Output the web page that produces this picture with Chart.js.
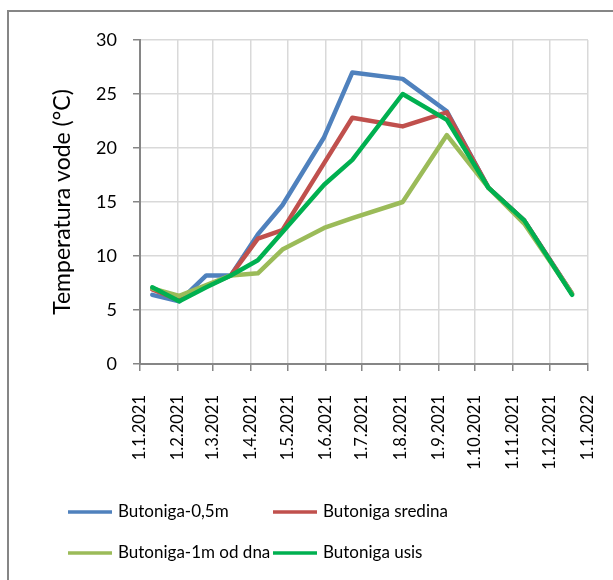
<!DOCTYPE html>
<html>
<head>
<meta charset="utf-8">
<script src="https://cdn.jsdelivr.net/npm/chart.js@4.4.1/dist/chart.umd.min.js"></script>
<style>
    body { margin: 0; background: #ffffff; }
    canvas { display: block; }
</style>
</head>
<body>
<canvas id="tempChart" width="613" height="580"></canvas>
<script>
// Data
const tickLabels = ['1.1.2021', '1.2.2021', '1.3.2021', '1.4.2021', '1.5.2021', '1.6.2021',
    '1.7.2021', '1.8.2021', '1.9.2021', '1.10.2021', '1.11.2021', '1.12.2021', '1.1.2022'];
const sampleDates = ['11.1.2021', '2.2.2021', '24.2.2021', '16.3.2021', '7.4.2021', '27.4.2021',
    '31.5.2021', '23.6.2021', '3.8.2021', '8.9.2021', '12.10.2021', '10.11.2021', '19.12.2021'];
const seriesNames = ['Butoniga-0,5m', 'Butoniga sredina', 'Butoniga-1m od dna', 'Butoniga usis'];
const butoniga05 = [6.4, 5.8, 8.2, 8.2, 12.0, 14.7, 21.0, 27.0, 26.4, 23.4, 16.3, 13.3, 6.5];
const butonigaSredina = [6.9, 5.9, 7.2, 8.2, 11.6, 12.4, 18.6, 22.8, 22.0, 23.3, 16.3, 13.3, 6.5];
const butoniga1m = [7.0, 6.3, 7.3, 8.2, 8.4, 10.6, 12.6, 13.5, 15.0, 21.2, 16.3, 13.0, 6.5];
const butonigaUsis = [7.1, 5.8, 7.1, 8.2, 9.6, 12.2, 16.6, 18.9, 25.0, 22.6, 16.3, 13.3, 6.4];
const seriesColors = ['#4F81BD', '#C0504D', '#9BBB59', '#00B050'];

const FONT = 'Lato, "Open Sans", sans-serif';

// days since 1.1.2021 for a "d.m.yyyy" string
function dayOffset(str) {
    const [d, m, y] = str.split('.').map(Number);
    return (Date.UTC(y, m - 1, d) - Date.UTC(2021, 0, 1)) / 86400000;
}

const tickDays = tickLabels.map(dayOffset);
const sampleDays = sampleDates.map(dayOffset);

function toPoints(values) {
    return values.map((v, i) => ({ x: sampleDays[i], y: v }));
}

// Outer frame (only top and left edges show in the picture)
const framePlugin = {
    id: 'frame',
    beforeDraw(chart) {
        const c = chart.ctx;
        c.save();
        c.strokeStyle = '#868686';
        c.lineWidth = 2;
        c.beginPath();
        c.moveTo(8, chart.height + 2);
        c.lineTo(8, 11);
        c.lineTo(chart.width + 2, 11);
        c.stroke();
        c.restore();
    }
};

// Two-column legend like the original spreadsheet chart
const gridLegendPlugin = {
    id: 'gridLegend',
    afterDraw(chart) {
        const c = chart.ctx;
        const cols = [68, 273];
        const rows = [512, 553];
        c.save();
        c.font = '17px ' + FONT;
        c.textBaseline = 'middle';
        c.textAlign = 'left';
        chart.data.datasets.forEach((ds, i) => {
            const x = cols[i % 2];
            const y = rows[Math.floor(i / 2)];
            c.strokeStyle = ds.borderColor;
            c.lineWidth = 3.5;
            c.beginPath();
            c.moveTo(x, y);
            c.lineTo(x + 44, y);
            c.stroke();
            c.fillStyle = '#000000';
            c.fillText(ds.label, x + 50, y);
        });
        c.restore();
    }
};

const datasets = [butoniga05, butonigaSredina, butoniga1m, butonigaUsis].map((values, i) => ({
    label: seriesNames[i],
    data: toPoints(values),
    borderColor: seriesColors[i],
    backgroundColor: seriesColors[i],
    borderWidth: 4.5,
    borderJoinStyle: 'round',
    borderCapStyle: 'round',
    pointRadius: 0,
    tension: 0,
    order: 4 - i
}));

new Chart(document.getElementById('tempChart'), {
    type: 'line',
    data: { datasets: datasets },
    options: {
        responsive: false,
        animation: false,
        layout: {
            padding: { top: 40, right: 25, bottom: 106, left: 0 }
        },
        plugins: {
            legend: { display: false },
            tooltip: { enabled: false }
        },
        scales: {
            x: {
                type: 'linear',
                min: 0,
                max: 365,
                afterBuildTicks: function(scale) {
                    scale.ticks = tickDays.map(v => ({ value: v }));
                },
                afterFit: function(scale) {
                    scale.height = 110;
                    scale.paddingLeft = 0;
                    scale.paddingRight = 0;
                },
                grid: {
                    color: '#d9d9d9',
                    lineWidth: 1.5,
                    tickColor: '#868686',
                    tickLength: 7
                },
                border: { color: '#868686', width: 2 },
                ticks: {
                    autoSkip: false,
                    minRotation: 90,
                    maxRotation: 90,
                    padding: 24,
                    color: '#000000',
                    font: { family: FONT, size: 16.5 },
                    callback: function(value, index) {
                        return tickLabels[index];
                    }
                }
            },
            y: {
                min: 0,
                max: 30,
                afterFit: function(scale) {
                    scale.width = 140;
                },
                grid: {
                    color: '#d9d9d9',
                    lineWidth: 1.5,
                    tickColor: '#868686',
                    tickLength: 7
                },
                border: { color: '#868686', width: 2 },
                ticks: {
                    stepSize: 5,
                    padding: 16,
                    color: '#000000',
                    font: { family: FONT, size: 18 }
                },
                title: {
                    display: true,
                    text: 'Temperatura vode (°C)',
                    color: '#000000',
                    font: { family: FONT, size: 23 },
                    padding: { top: 49, bottom: 0 }
                }
            }
        }
    },
    plugins: [framePlugin, gridLegendPlugin]
});
</script>
</body>
</html>
